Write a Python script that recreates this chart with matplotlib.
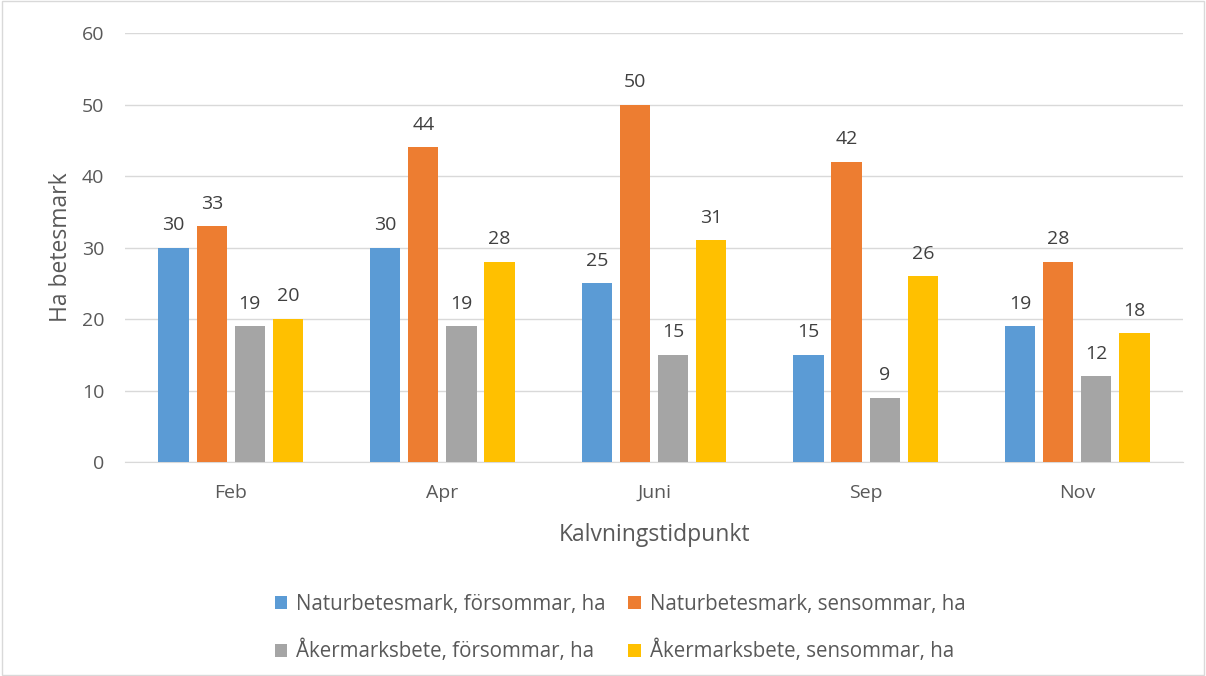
import numpy as np
import matplotlib.pyplot as plt
from matplotlib.patches import Rectangle

plt.rcParams['font.family'] = ['Open Sans', 'DejaVu Sans']

# Data
months = ['Feb', 'Apr', 'Juni', 'Sep', 'Nov']
series_names = ['Naturbetesmark, försommar, ha', 'Naturbetesmark, sensommar, ha',
                'Åkermarksbete, försommar, ha', 'Åkermarksbete, sensommar, ha']
natur_tidig = [30, 30, 25, 15, 19]
natur_sen = [33, 44, 50, 42, 28]
aker_tidig = [19, 19, 15, 9, 12]
aker_sen = [20, 28, 31, 26, 18]
colors = ['#5B9BD5', '#ED7D31', '#A5A5A5', '#FFC000']

text_color = '#595959'

fig = plt.figure(figsize=(12.06, 6.76), dpi=100)
ax = fig.add_axes([0.1036, 0.3166, 0.8774, 0.6344])

x = np.arange(len(months))
width = 0.143
step = 0.18
all_series = [natur_tidig, natur_sen, aker_tidig, aker_sen]
handles = []
for i, (vals, name, col) in enumerate(zip(all_series, series_names, colors)):
    offs = (i - 1.5) * step
    bars = ax.bar(x + offs, vals, width, color=col, label=name, zorder=3)
    handles.append(bars)
    for b, v in zip(bars, vals):
        ax.text(b.get_x() + b.get_width() / 2, v + 1.9, str(v), ha='center', va='bottom',
                fontsize=14, color='#404040')

ax.set_xlim(-0.5, len(months) - 0.5)
ax.set_ylim(0, 60)
ax.set_yticks(range(0, 61, 10))
ax.set_xticks(x)
ax.set_xticklabels(months)
ax.yaxis.grid(True, color='#D9D9D9', linewidth=1, zorder=0)
for s in ['top', 'right', 'left']:
    ax.spines[s].set_visible(False)
ax.spines['bottom'].set_color('#D9D9D9')
ax.tick_params(axis='both', length=0, labelsize=14, colors=text_color)
ax.tick_params(axis='x', pad=16)
ax.tick_params(axis='y', pad=15)
ax.set_xlabel('Kalvningstidpunkt', fontsize=16.5, color=text_color, labelpad=15)
ax.set_ylabel('Ha betesmark', fontsize=16.5, color=text_color, labelpad=6)

# legend filled row by row like the original
order = [0, 2, 1, 3]
ax.legend([handles[k] for k in order], [series_names[k] for k in order],
          loc='upper center', bbox_to_anchor=(0.468, -0.265), ncol=2, frameon=False,
          fontsize=14.8, labelcolor=text_color, handlelength=0.6, handleheight=0.6,
          handletextpad=0.45, columnspacing=1.1, labelspacing=1.2)

fig.patches.append(Rectangle((0.002, 0.002), 0.996, 0.996, transform=fig.transFigure,
                             fill=False, edgecolor='#D9D9D9', linewidth=1))

fig.savefig('out.png', dpi=100)
